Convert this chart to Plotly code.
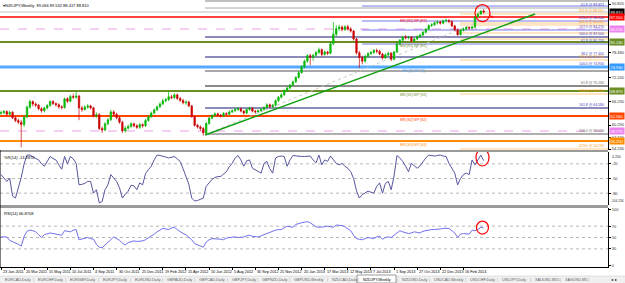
import pandas as pd
import plotly.graph_objects as go

# ---------------- data ----------------
START = pd.Timestamp("2011-01-23")
N_BARS = 168
dates = pd.date_range(START, periods=N_BARS, freq="7D")

opens = [
    63.2, 63.4, 63.7, 63.0, 63.5, 62.1, 61.4, 61.0, 60.4, 62.3,
    64.8, 66.2, 65.6, 65.3, 64.4, 63.9, 64.6, 65.2, 66.2, 65.7,
    65.4, 64.9, 64.7, 66.9, 66.3, 67.5, 67.3, 67.6, 64.6, 64.2,
    64.8, 65.1, 64.6, 62.6, 62.9, 59.4, 59.0, 60.6, 61.6, 63.6,
    63.0, 62.1, 61.0, 58.8, 59.5, 59.9, 60.6, 60.1, 59.7, 60.4,
    60.1, 61.4, 62.4, 63.3, 64.1, 64.9, 65.6, 66.4, 66.7, 67.4,
    67.2, 67.9, 67.0, 66.5, 65.9, 66.1, 65.1, 62.4, 60.2, 59.8,
    59.4, 58.3, 60.7, 62.0, 62.7, 63.1, 62.8, 62.6, 63.2, 63.0,
    63.6, 63.9, 64.2, 64.4, 63.8, 63.3, 64.2, 64.5, 63.8, 63.6,
    63.9, 64.2, 64.7, 65.4, 64.9, 65.3, 66.4, 67.3, 67.9, 69.0,
    69.6, 70.4, 71.2, 72.3, 73.5, 75.0, 76.4, 77.8, 77.4, 77.9,
    78.6, 79.3, 78.1, 78.7, 78.4, 80.8, 83.2, 84.6, 85.0, 84.4,
    85.1, 84.5, 84.0, 82.0, 78.5, 77.3, 76.4, 77.6, 78.3, 78.6,
    79.1, 78.9, 78.2, 77.2, 78.0, 78.4, 76.9, 78.7, 80.8, 81.7,
    82.5, 82.3, 82.4, 81.5, 82.0, 82.6, 83.0, 83.7, 84.5, 85.4,
    85.6, 86.1, 86.3, 86.0, 86.6, 86.7, 86.4, 85.3, 84.3, 83.1,
    84.2, 84.5, 84.9, 84.8, 85.0, 87.6, 88.3, 89.066,
]
highs = [
    63.9, 64.1, 64.0, 63.9, 63.8, 62.6, 61.9, 61.6, 62.8, 65.2,
    66.7, 66.5, 66.0, 65.6, 64.8, 64.9, 65.6, 66.5, 66.6, 66.0,
    65.8, 65.3, 67.2, 67.3, 67.9, 68.2, 68.9, 67.9, 65.1, 65.3,
    65.6, 65.4, 64.9, 63.5, 63.3, 59.9, 61.0, 62.0, 64.1, 64.0,
    63.4, 62.5, 61.4, 60.0, 60.4, 61.0, 60.9, 60.5, 60.8, 60.7,
    61.8, 62.8, 63.7, 64.5, 65.2, 66.0, 66.9, 67.1, 68.9, 67.9,
    68.3, 68.2, 67.4, 66.9, 66.5, 66.4, 65.4, 62.7, 60.6, 60.2,
    59.8, 61.0, 62.4, 63.0, 63.5, 63.4, 63.1, 63.6, 63.5, 64.0,
    64.2, 64.5, 64.8, 64.6, 64.0, 64.5, 64.9, 64.8, 64.1, 64.2,
    64.5, 65.0, 65.8, 65.7, 65.6, 66.8, 67.6, 68.3, 69.3, 70.0,
    70.7, 71.5, 72.6, 73.9, 75.4, 76.8, 78.2, 78.3, 78.3, 79.0,
    79.8, 79.6, 79.1, 79.0, 81.2, 86.3, 85.5, 85.6, 85.4, 85.5,
    85.6, 85.0, 84.3, 82.3, 79.0, 77.8, 78.0, 78.7, 79.0, 79.5,
    79.6, 79.3, 78.5, 78.4, 78.8, 78.7, 79.0, 81.2, 82.0, 82.8,
    83.0, 82.8, 82.7, 82.3, 82.9, 83.3, 84.0, 84.8, 85.7, 86.0,
    86.4, 86.7, 86.6, 86.9, 87.1, 87.0, 86.7, 85.6, 84.6, 84.5,
    84.9, 85.2, 85.2, 85.3, 87.8, 88.6, 89.2, 89.532,
]
lows = [
    62.9, 63.0, 62.6, 62.7, 61.8, 61.0, 60.5, 54.7, 59.8, 62.0,
    64.4, 65.0, 64.8, 64.0, 63.4, 63.5, 64.2, 64.9, 65.3, 64.9,
    64.4, 64.2, 64.4, 65.8, 66.0, 66.9, 66.9, 61.5, 63.6, 63.9,
    64.4, 64.2, 62.2, 62.1, 59.0, 58.3, 58.7, 60.2, 61.3, 62.6,
    61.7, 60.6, 58.3, 58.4, 59.1, 59.6, 59.7, 59.3, 59.3, 59.6,
    59.8, 61.1, 62.1, 63.0, 63.8, 64.6, 65.3, 66.0, 66.3, 66.8,
    66.8, 66.6, 66.1, 65.5, 65.4, 64.8, 62.1, 59.9, 59.4, 58.8,
    57.6, 58.0, 60.3, 61.7, 62.4, 62.4, 62.2, 62.3, 62.7, 62.7,
    63.3, 63.6, 63.9, 63.5, 62.9, 63.0, 63.9, 63.5, 63.2, 63.3,
    63.7, 63.9, 64.5, 64.6, 64.6, 65.0, 66.1, 67.0, 67.7, 68.7,
    69.3, 70.1, 70.9, 72.0, 73.2, 74.6, 76.0, 75.4, 76.5, 77.5,
    78.2, 77.6, 77.8, 77.9, 78.1, 80.4, 82.6, 84.0, 83.9, 84.0,
    84.1, 83.6, 81.6, 78.1, 74.7, 75.6, 76.0, 77.2, 77.9, 78.2,
    78.4, 77.9, 76.8, 76.9, 77.6, 76.4, 76.6, 78.4, 80.4, 81.4,
    81.9, 81.9, 81.1, 81.2, 81.7, 82.2, 82.7, 83.4, 84.2, 85.0,
    85.3, 85.7, 85.6, 85.7, 86.2, 86.0, 85.0, 84.0, 82.8, 82.9,
    83.9, 84.2, 84.4, 84.4, 84.7, 87.2, 88.1, 88.417,
]
closes = [
    63.4, 63.7, 63.0, 63.5, 62.1, 61.4, 61.0, 60.4, 62.3, 64.8,
    66.2, 65.6, 65.3, 64.4, 63.9, 64.6, 65.2, 66.2, 65.7, 65.4,
    64.9, 64.7, 66.9, 66.3, 67.5, 67.3, 67.6, 64.6, 64.2, 64.8,
    65.1, 64.6, 62.6, 62.9, 59.4, 59.0, 60.6, 61.6, 63.6, 63.0,
    62.1, 61.0, 58.8, 59.5, 59.9, 60.6, 60.1, 59.7, 60.4, 60.1,
    61.4, 62.4, 63.3, 64.1, 64.9, 65.6, 66.4, 66.7, 67.4, 67.2,
    67.9, 67.0, 66.5, 65.9, 66.1, 65.1, 62.4, 60.2, 59.8, 59.4,
    58.3, 60.7, 62.0, 62.7, 63.1, 62.8, 62.6, 63.2, 63.0, 63.6,
    63.9, 64.2, 64.4, 63.8, 63.3, 64.2, 64.5, 63.8, 63.6, 63.9,
    64.2, 64.7, 65.4, 64.9, 65.3, 66.4, 67.3, 67.9, 69.0, 69.6,
    70.4, 71.2, 72.3, 73.5, 75.0, 76.4, 77.8, 77.4, 77.9, 78.6,
    79.3, 78.1, 78.7, 78.4, 80.8, 83.2, 84.6, 85.0, 84.4, 85.1,
    84.5, 84.0, 82.0, 78.5, 77.3, 76.4, 77.6, 78.3, 78.6, 79.1,
    78.9, 78.2, 77.2, 78.0, 78.4, 76.9, 78.7, 80.8, 81.7, 82.5,
    82.3, 82.4, 81.5, 82.0, 82.6, 83.0, 83.7, 84.5, 85.4, 85.6,
    86.1, 86.3, 86.0, 86.6, 86.7, 86.4, 85.3, 84.3, 83.1, 84.2,
    84.5, 84.9, 84.8, 85.0, 87.6, 88.3, 89.07, 88.81,
]
wpr = [
    -42, -50, -56, -49, -86, -90, -70, -48, -20, -2,
    -2, -6, -9, -12, -20, -25, -14, -5, -9, -12,
    -22, -31, -5, -20, -5, -10, -19, -63, -62, -60,
    -56, -56, -80, -73, -100, -97, -73, -63, -42, -50,
    -56, -69, -90, -82, -76, -64, -65, -73, -59, -63,
    -40, -32, -25, -12, -2, -3, -4, -6, -8, -6,
    -5, -10, -15, -30, -45, -62, -90, -96, -95, -92,
    -90, -66, -58, -52, -48, -46, -46, -40, -36, -26,
    -19, -8, -3, -12, -25, -14, -12, -29, -32, -36,
    -39, -19, -15, -30, -39, -8, -5, -4, -5, -25,
    -12, -3, -4, -4, -5, -5, -5, -4, -12, -18,
    -2, -22, -12, -15, -4, -12, -19, -22, -19, -25,
    -29, -36, -50, -75, -90, -83, -80, -76, -78, -80,
    -66, -59, -80, -60, -56, -73, -45, -3, -8, -15,
    -25, -36, -19, -24, -29, -24, -15, -8, -2, -3,
    -4, -3, -2, -4, -5, -19, -28, -39, -63, -50,
    -42, -39, -42, -12, -22, -12, -2, -13.3,
]
rsi = [
    51, 51, 51, 45, 43, 40, 38, 35, 52, 61,
    63, 62, 60, 55, 50, 55, 57, 58, 57, 56,
    55, 54, 62, 61, 60, 63, 64, 46, 47, 48,
    50, 48, 47, 38, 33, 32, 37, 41, 47, 51,
    48, 45, 40, 37, 41, 43, 44, 43, 43, 44,
    46, 49, 53, 56, 60, 63, 66, 65, 64, 67,
    68, 64, 60, 57, 55, 50, 46, 39, 37, 35,
    33, 42, 46, 48, 48, 48, 47, 46, 49, 50,
    51, 51, 50, 50, 51, 53, 54, 52, 52, 51,
    53, 55, 58, 60, 61, 63, 64, 64, 67, 70,
    69, 68, 73, 75, 76, 77, 78, 76, 72, 69,
    68, 68, 69, 70, 69, 68, 72, 72, 71, 69,
    66, 62, 54, 48, 47, 46, 48, 50, 49, 48,
    51, 52, 47, 50, 51, 50, 54, 58, 62, 60,
    58, 57, 58, 60, 59, 58, 61, 62, 64, 64,
    64, 64, 65, 66, 66, 66, 62, 58, 50, 56,
    57, 57, 56, 63, 62, 64, 68, 66.9,
]

date_labels = ["23 Jan 2011", "20 Mar 2011", "15 May 2011", "10 Jul 2011", "4 Sep 2011",
               "30 Oct 2011", "25 Dec 2011", "19 Feb 2012", "15 Apr 2012", "10 Jun 2012",
               "5 Aug 2012", "30 Sep 2012", "25 Nov 2012", "20 Jan 2013", "17 Mar 2013",
               "12 May 2013", "7 Jul 2013", "1 Sep 2013", "27 Oct 2013", "22 Dec 2013",
               "16 Feb 2014"]

price_ticks = [90.82, 78.48, 72.24, 66.23, 60.29, 57.12, 54.23]
price_tick_text = ["90.820", "78.480", "72.240", "66.230", "60.290", "57.120", "54.230"]
wpr_ticks = [-20, -50, -80]
wpr_tick_text = ["-20", "-50", "-80"]
wpr_top_text, wpr_bottom_text = "4.234", "-104.234"
rsi_ticks = [100, 70, 50, 30, 0]
wpr_levels = [-20, -50, -80]
rsi_levels = [70, 50, 30]

bid_price = 88.81
title_text = "NZDJPY,Weekly  89.066 89.532 88.417 88.810"
wpr_title = "%R(14) -13.2870"
rsi_title = "RSI(14) 66.8708"

# pivot levels (price, name, colour, width)
pivot_prices = [87.55, 81.24, 74.93, 68.87, 62.56, 56.25]
pivot_names = ["MN [R2] WP [R2]", "MN [R1] WP [R1]", "MN [P] WP [P]",
               "MN [S1] WP [S1]", "MN [S2] WP [S2]", "MN [S3] WP [S3]"]
pivot_colors = ["#ff0000", "#6b8e23", "#55aaff", "#6b8e23", "#ff4500", "#ff8c00"]
pivot_widths = [1.5, 2, 3, 2, 2, 2]
mid_prices = [84.52, 58.77]

# fibonacci objects: anchor bar index and level prices
fib_gray_anchor = 70.6
fib_gray_prices = [91.59, 89.82, 82.50, 77.45, 73.92, 70.13, 64.58, 58.02]
fib_gray_colors = ["#808080", "#a8a8a8", "#191970", "#191970", "#505050", "#8a8a8a", "#191970", "#606060"]
fib_gray_widths = [1, 1, 1.2, 1.2, 1, 2, 1.2, 1]
fib_blue_anchor = 124.9
fib_blue_prices = [90.32, 86.54, 84.27, 80.73]
fib_orange_anchor = 158.8
fib_orange_prices = [88.31, 86.03, 85.53, 83.51, 82.00, 76.70, 68.11, 54.23]

fib_label_prices = [89.82, 88.31, 86.54, 85.53, 84.27, 82.50, 80.73, 77.45, 76.70,
                    74.93, 70.13, 68.11, 64.58, 58.02, 54.23]
fib_label_texts = ["61.8 @ 89.823", "311.8 @ 88.310", "215.4 @ 86.540", "261.8 @ 85.530",
                   "127.2 @ 84.270", "100.0 @ 82.500", "61.8 @ 80.730", "38.2 @ 77.450",
                   "161.8 @ 76.700", "100.0 @ 74.930", "61.8 @ 70.130", "261.8 @ 68.110",
                   "161.8 @ 64.580", "100.0 @ 58.020", "423.6 @ 54.230"]
fib_label_colors = ["#4040c0", "#ff9900", "#4040c0", "#ff9900", "#4040c0", "#4040c0",
                    "#4040c0", "#4040c0", "#ff9900", "#4040c0", "#606060", "#ff9900",
                    "#4040c0", "#606060", "#ff9900"]

# right-hand price boxes
box_prices = [88.81, 87.55, 84.52, 81.24, 74.93, 68.87, 62.56, 58.77, 56.25]
box_texts = ["88.810", "87.550", "84.520", "81.240", "74.930", "68.870", "62.560", "58.770", "56.250"]
box_colors = ["#000000", "#ff0000", "#ee82ee", "#6b8e23", "#3399ff", "#6b8e23", "#ff4500", "#ee82ee", "#ff8c00"]

# drawn objects (bar index, price)
trend_pts = [(70.6, 57.77), (184.8, 88.31)]
dotted_pts = [(70.6, 57.77), (165.0, 86.29)]
mark_bar, mark_price, mark_wpr, mark_rsi = 166.6, 88.55, -7.0, 67.5

tab_names = ["EURCAD,Daily", "EURCHF,Daily", "EURGBP,Daily", "EURJPY,Daily", "EURUSD,Daily",
             "GBPAUD,Daily", "GBPCAD,Daily", "GBPJPY,Daily", "GBPNZD,Daily", "GBPUSD,Weekly",
             "NZDCAD,Daily", "NZDJPY,Weekly", "NZDUSD,Daily", "USDCAD,Weekly", "USDCHF,Daily",
             "USDJPY,Daily", "XAUUSD,M15", "XAGUSD,M5"]
tab_x = [3, 36, 68, 101, 133, 165, 197, 230, 260, 292, 330, 361, 400, 432, 468, 500, 533, 563]
active_tab = "NZDJPY,Weekly"

# ---------------- geometry helpers ----------------
H = 267.0   # plot area height in px
W = 608.0   # plot area width in px


def py(p):
    return 1 - p / H


def pxp(p):
    return p / W


def at(i):
    return START + pd.Timedelta(days=7 * i)


X_LEFT, X_RIGHT = at(-0.346), at(210.03)
FONT = "Liberation Sans, Arial, sans-serif"

fig = go.Figure()
fig.add_trace(go.Candlestick(
    x=dates, open=opens, high=highs, low=lows, close=closes,
    increasing=dict(line=dict(color="#00b000", width=0.7), fillcolor="#00c800"),
    decreasing=dict(line=dict(color="#c80000", width=0.7), fillcolor="#d00000"),
    whiskerwidth=0, xaxis="x", yaxis="y", showlegend=False, hoverinfo="skip"))
fig.add_trace(go.Scatter(x=dates, y=wpr, mode="lines", line=dict(color="#5656a0", width=1),
                         xaxis="x", yaxis="y2", showlegend=False, hoverinfo="skip"))
fig.add_trace(go.Scatter(x=dates, y=rsi, mode="lines", line=dict(color="#7070f0", width=1),
                         xaxis="x", yaxis="y3", showlegend=False, hoverinfo="skip"))

shapes = []
annos = []


def hline(price, color, width=1, dash="solid", start=None, yref="y", layer="below"):
    if start is None:
        shapes.append(dict(type="line", xref="paper", x0=0, x1=1, yref=yref, y0=price, y1=price,
                           line=dict(color=color, width=width, dash=dash), layer=layer))
    else:
        shapes.append(dict(type="line", xref="x", x0=at(start), x1=X_RIGHT, yref=yref, y0=price, y1=price,
                           line=dict(color=color, width=width, dash=dash), layer=layer))


# fibo objects
for p, c, w in zip(fib_gray_prices, fib_gray_colors, fib_gray_widths):
    hline(p, c, w, start=fib_gray_anchor)
for p in fib_blue_prices:
    hline(p, "#7878e8", 1, start=fib_blue_anchor)
for p in fib_orange_prices:
    hline(p, "#ffcc88", 1, start=fib_orange_anchor)
# pivots
for p in mid_prices:
    hline(p, "#f0a0e8", 1, dash="dash")
for p, c, w in zip(pivot_prices, pivot_colors, pivot_widths):
    hline(p, c, w)
hline(bid_price, "#c0c0c0", 1)

# trend line and dotted fibo diagonal
shapes.append(dict(type="line", xref="x", yref="y", x0=at(dotted_pts[0][0]), y0=dotted_pts[0][1],
                   x1=at(dotted_pts[1][0]), y1=dotted_pts[1][1],
                   line=dict(color="#c8c8c8", width=1, dash="dot"), layer="below"))
shapes.append(dict(type="line", xref="x", yref="y", x0=at(trend_pts[0][0]), y0=trend_pts[0][1],
                   x1=at(trend_pts[1][0]), y1=trend_pts[1][1],
                   line=dict(color="#10a010", width=1.5), layer="above"))

# indicator level lines
for lv in wpr_levels:
    hline(lv, "#b8b8b8", 1, dash="dot", yref="y2")
for lv in rsi_levels:
    hline(lv, "#b8b8b8", 1, dash="dot", yref="y3")

# red circles
for yr, yv, rx, ry in [("y", mark_price, 7.5, 8.5), ("y2", mark_wpr, 6.5, 8.5), ("y3", mark_rsi, 6, 6.5)]:
    shapes.append(dict(type="circle", xref="x", yref=yr, xsizemode="pixel", ysizemode="pixel",
                       xanchor=at(mark_bar), yanchor=yv, x0=-rx, x1=rx, y0=-ry, y1=ry,
                       line=dict(color="#ff0000", width=1.2), layer="above"))

# panel separators
for top, bot in [(150, 152), (205, 208)]:
    shapes.append(dict(type="rect", xref="paper", yref="paper", x0=0, x1=1, y0=py(bot), y1=py(top),
                       fillcolor="#9a9a9a", line=dict(width=0), layer="above"))
# left edge of indicator panels
shapes.append(dict(type="line", xref="paper", yref="paper", x0=0, x1=0, y0=0, y1=py(150),
                   line=dict(color="#000", width=1)))

# tab bar
shapes.append(dict(type="rect", xref="paper", yref="paper", x0=-0.01, x1=1.05, y0=py(284), y1=py(276),
                   fillcolor="#f0f0f0", line=dict(color="#c8c8c8", width=0.5), layer="above"))
ai = tab_names.index(active_tab)
shapes.append(dict(type="rect", xref="paper", yref="paper", x0=pxp(tab_x[ai] - 4), x1=pxp(tab_x[ai] + 35),
                   y0=py(283), y1=py(275), fillcolor="#ffffff", line=dict(color="#808080", width=0.8),
                   layer="above"))

# ---------------- text ----------------
annos.append(dict(xref="paper", yref="paper", x=0, y=1, xanchor="left", yanchor="top", xshift=1, yshift=-1,
                  text="\u25be" + title_text, showarrow=False, font=dict(size=4, color="#000", family=FONT)))
annos.append(dict(xref="paper", yref="paper", x=0, y=py(152), xanchor="left", yanchor="top", xshift=2,
                  yshift=-1, text=wpr_title, showarrow=False, font=dict(size=4, color="#000", family=FONT)))
annos.append(dict(xref="paper", yref="paper", x=0, y=py(208), xanchor="left", yanchor="top", xshift=2,
                  yshift=-1, text=rsi_title, showarrow=False, font=dict(size=4, color="#000", family=FONT)))

# WPR panel extreme labels (kept clear of the price-axis labels)
annos.append(dict(xref="paper", yref="paper", x=1, y=py(153), xanchor="left", yanchor="top", xshift=2,
                  text=wpr_top_text, showarrow=False, font=dict(size=3.5, color="#303030", family=FONT)))
annos.append(dict(xref="paper", yref="paper", x=1, y=py(205), xanchor="left", yanchor="bottom", xshift=1,
                  text=wpr_bottom_text, showarrow=False, font=dict(size=3.2, color="#303030", family=FONT)))

for p, name, c in zip(pivot_prices, pivot_names, pivot_colors):
    annos.append(dict(xref="x", yref="y", x=at(142.6), y=p, xanchor="center", yanchor="top",
                      text=name, showarrow=False, font=dict(size=3.5, color=c, family=FONT)))

for p, t, c in zip(fib_label_prices, fib_label_texts, fib_label_colors):
    annos.append(dict(xref="paper", yref="y", x=1, y=p, xanchor="right", yanchor="bottom", xshift=-2,
                      yshift=-1, text=t, showarrow=False, font=dict(size=3.5, color=c, family=FONT)))

for p, t, c in zip(box_prices, box_texts, box_colors):
    annos.append(dict(xref="paper", yref="y", x=1, y=p, xanchor="left", yanchor="middle", xshift=1,
                      text=t, showarrow=False, bgcolor=c, borderpad=0.5,
                      font=dict(size=4, color="#ffffff", family=FONT)))

annos.append(dict(xref="x", yref="y", x=at(169.4), y=88.0, text="\u2198", showarrow=False,
                  font=dict(size=7, color="#ff0000", family=FONT)))

label_dates = list(dates[::8][:len(date_labels)])
for d, t in zip(label_dates, date_labels):
    annos.append(dict(xref="x", yref="paper", x=d, y=0, xanchor="left", yanchor="top", yshift=-1,
                      text=t, showarrow=False, font=dict(size=3.8, color="#000", family=FONT)))

for name, xp in zip(tab_names, tab_x):
    annos.append(dict(xref="paper", yref="paper", x=pxp(xp), y=py(279.5), xanchor="left", yanchor="middle",
                      text=name, showarrow=False,
                      font=dict(size=3.8, color="#000" if name == active_tab else "#606060", family=FONT)))
for xp in tab_x[1:] + [591]:
    annos.append(dict(xref="paper", yref="paper", x=pxp(xp - 3), y=py(279.5), xanchor="center",
                      yanchor="middle", text="|", showarrow=False,
                      font=dict(size=4, color="#a0a0a0", family=FONT)))
annos.append(dict(xref="paper", yref="paper", x=pxp(614), y=py(279.5), xanchor="center", yanchor="middle",
                  text="\u25c2  \u25b8", showarrow=False, font=dict(size=4, color="#000", family=FONT)))

axis_common = dict(showgrid=False, zeroline=False, side="right", anchor="x", ticks="outside", ticklen=2,
                   tickcolor="#000", showline=True, linecolor="#000", linewidth=1, automargin=False,
                   fixedrange=True, tickfont=dict(size=4, color="#303030", family=FONT))

fig.update_layout(
    width=625, height=283, margin=dict(l=0, r=17, t=0, b=16),
    paper_bgcolor="white", plot_bgcolor="white", showlegend=False,
    font=dict(family=FONT, size=4, color="#000"),
    xaxis=dict(type="date", range=[X_LEFT, X_RIGHT], anchor="y3", showgrid=False, zeroline=False,
               showticklabels=False, ticks="outside", ticklen=2, tickcolor="#000", tickvals=label_dates,
               showline=True, linecolor="#000", linewidth=1, rangeslider=dict(visible=False),
               fixedrange=True, automargin=False),
    yaxis=dict(domain=[py(150), 1], range=[53.98, 91.84], tickvals=price_ticks, ticktext=price_tick_text,
               **axis_common),
    yaxis2=dict(domain=[py(205), py(152)], range=[-104.234, 4.234], tickvals=wpr_ticks,
                ticktext=wpr_tick_text, **axis_common),
    yaxis3=dict(domain=[0, py(208)], range=[-2, 102], tickvals=rsi_ticks, **axis_common),
    shapes=shapes, annotations=annos,
)

fig.write_html("out.html")
